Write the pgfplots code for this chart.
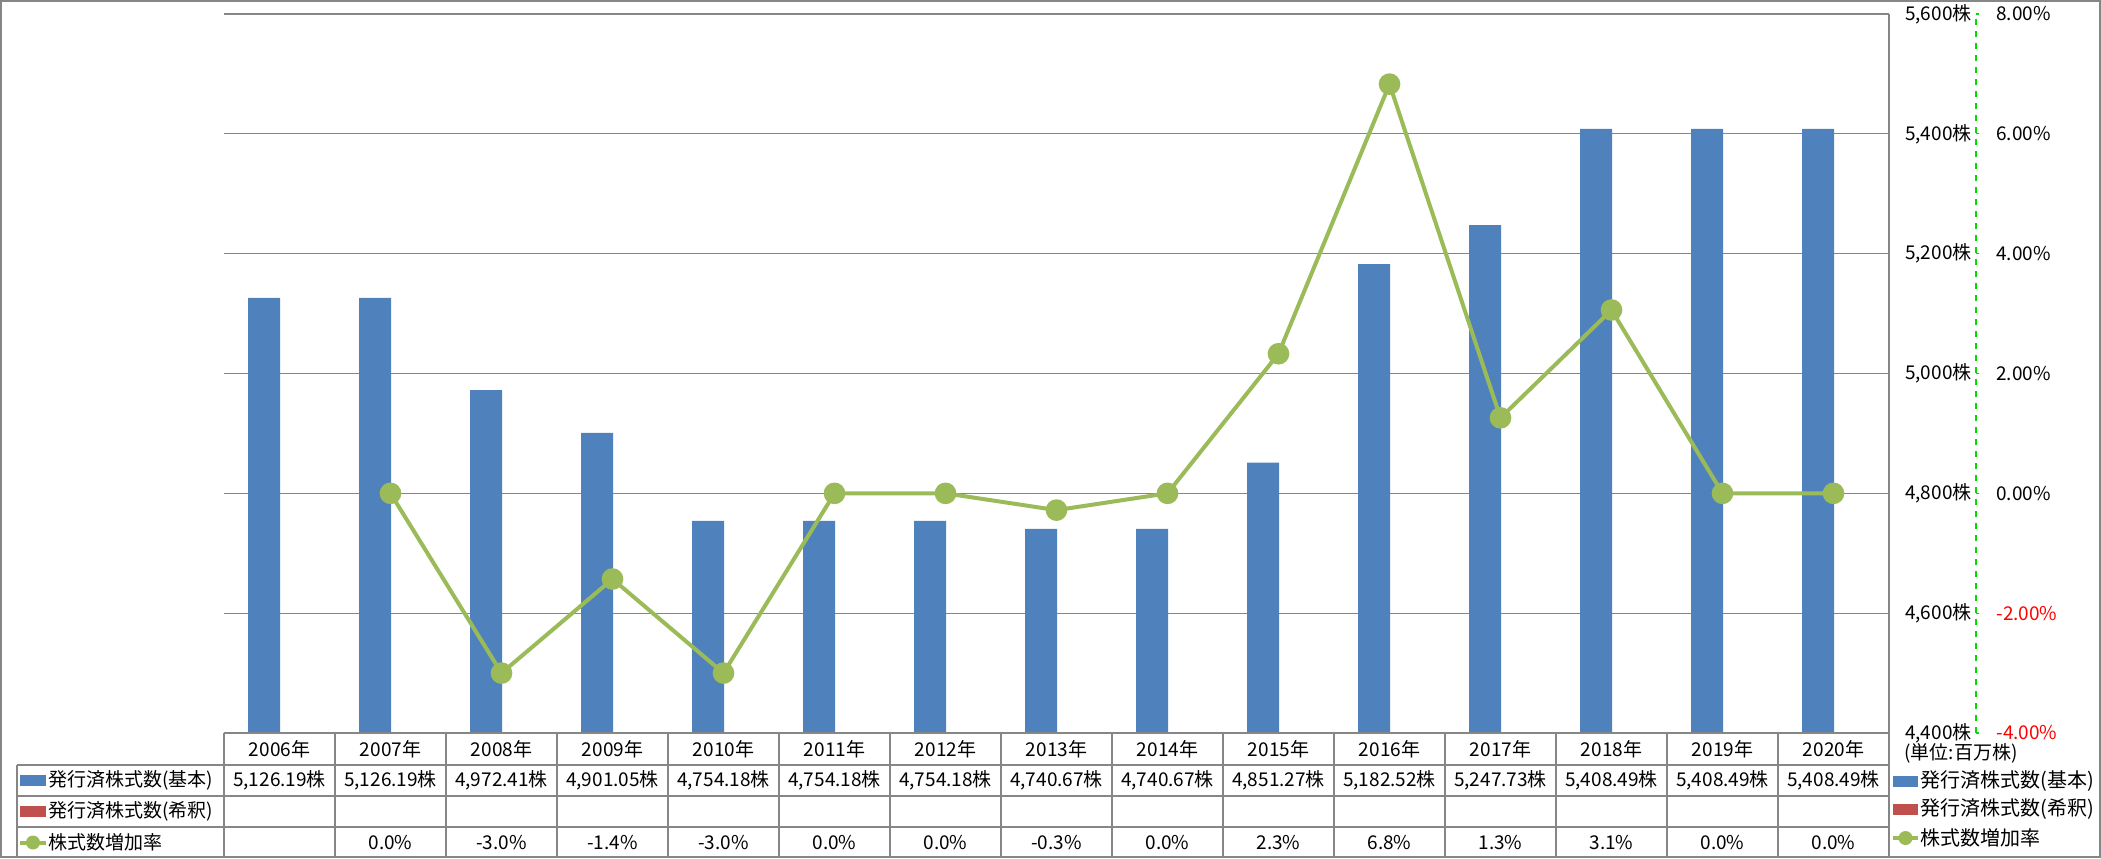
\documentclass[border=0pt]{standalone}
\usepackage{pgfplots}
\pgfplotsset{compat=1.18}
\usepackage{fontspec}
\setmainfont{Noto Sans CJK JP}
\definecolor{barblue}{HTML}{4F81BD}
\definecolor{barred}{HTML}{C0504D}
\definecolor{linegreen}{HTML}{9BBB59}
\definecolor{gridgray}{HTML}{868686}
\definecolor{axisgreen}{HTML}{00DD00}

% values
\def\shares{5126.19,5126.19,4972.41,4901.05,4754.18,4754.18,4754.18,4740.67,4740.67,4851.27,5182.52,5247.73,5408.49,5408.49,5408.49}
\def\rates{0.00,-3.00,-1.43,-3.00,0.00,0.00,-0.28,0.00,2.33,6.83,1.26,3.06,0.00,0.00}

\begin{document}
\fontsize{9.5}{11}\selectfont
\begin{tikzpicture}

% bars (left value axis, labels shown on the right)
\begin{axis}[
    at={(112pt,-366.5pt)}, anchor=south west,
    scale only axis, width=832.5pt, height=359.5pt,
    xmin=-0.5, xmax=14.5,
    ymin=4400, ymax=5600,
    ytick={4400,4600,...,5600},
    axis x line=none, axis y line*=right,
    y axis line style={draw=gridgray, line width=0.6pt, -},
    ymajorgrids, grid style={gridgray, line width=0.6pt},
    major tick length=0pt,
    yticklabel style={anchor=east, inner sep=0pt, xshift=41.5pt},
    yticklabel={\pgfmathprintnumber{\tick}株},
    /pgf/number format/1000 sep={,},
    /pgf/number format/assume math mode=true,
]
\addplot[ybar, bar width=16pt, bar shift=-7.75pt, fill=barblue, draw=none]
    coordinates {(0,5126.19) (1,5126.19) (2,4972.41) (3,4901.05) (4,4754.18)
                 (5,4754.18) (6,4754.18) (7,4740.67) (8,4740.67) (9,4851.27)
                 (10,5182.52) (11,5247.73) (12,5408.49) (13,5408.49) (14,5408.49)};
\end{axis}

% growth rate (secondary axis)
\begin{axis}[
    at={(112pt,-366.5pt)}, anchor=south west,
    scale only axis, width=832.5pt, height=359.5pt,
    xmin=-0.5, xmax=14.5,
    ymin=-4, ymax=8,
    ytick={-4,-2,...,8},
    axis x line=none, axis y line*=right,
    y axis line style={draw=axisgreen, dashed, line width=0.6pt, xshift=43.5pt, -},
    tick style={axisgreen, line width=0.6pt, xshift=43.5pt},
    tick align=outside, major tick length=1.5pt,
    yticklabel style={anchor=west, inner sep=0pt, xshift=52pt},
    yticklabel={\ifdim\tick pt<0pt\color{red}\fi\pgfmathprintnumber[fixed,fixed zerofill,precision=2]{\tick}\%},
    /pgf/number format/assume math mode=true,
]
\addplot[linegreen, line width=2pt, mark=*, mark size=4.4pt,
    mark options={fill=linegreen, draw=linegreen}]
    coordinates {(1,0.00) (2,-3.00) (3,-1.43) (4,-3.00) (5,0.00) (6,0.00)
                 (7,-0.28) (8,0.00) (9,2.33) (10,6.83) (11,1.26) (12,3.06)
                 (13,0.00) (14,0.00)};
\end{axis}

% data table and legend, in pixel units
\begin{scope}[x=0.5pt, y=-0.5pt]
  \useasboundingbox (0,0) rectangle (2101,858);
  \draw[gridgray, line width=0.8pt] (1,1) rectangle (2100,857);
  \begin{scope}[gridgray, line width=0.6pt]
    \draw (224,733) -- (1889,733);
    \draw (17,765) -- (1889,765);
    \draw (17,796) -- (1889,796);
    \draw (17,827) -- (1889,827);
    \draw (17,765) -- (17,857);
    \foreach \k in {0,...,15} \draw ({224+111*\k},733) -- ({224+111*\k},857);
  \end{scope}
  % header
  \foreach \k in {0,...,14} {
    \pgfmathtruncatemacro\yr{2006+\k}
    \node at ({279.5+111*\k},749) {\yr 年};
  }
  % row keys and names
  \fill[barblue] (20,775) rectangle (46,786);
  \node[anchor=west, inner sep=0pt] at (48,780.5) {発行済株式数(基本)};
  \fill[barred] (20,806) rectangle (46,817);
  \node[anchor=west, inner sep=0pt] at (48,811.5) {発行済株式数(希釈)};
  \draw[linegreen, line width=2pt] (20,842.5) -- (46,842.5);
  \fill[linegreen] (33,842.5) circle (7);
  \node[anchor=west, inner sep=0pt] at (48,842.5) {株式数増加率};
  % shares row
  \foreach \v [count=\i from 0] in \shares
    \node at ({279.5+111*\i},780.5) {\pgfmathprintnumber[fixed,fixed zerofill,precision=2,1000 sep={,},assume math mode=true]{\v}株};
  % rate row
  \foreach \v [count=\i from 1] in \rates
    \node at ({279.5+111*\i},842.5) {\pgfmathprintnumber[fixed,fixed zerofill,precision=1,assume math mode=true]{\v}\%};
  % unit and legend on the right
  \node[anchor=west, inner sep=0pt] at (1904,753) {(単位:百万株)};
  \fill[barblue] (1893,776) rectangle (1918,787);
  \node[anchor=west, inner sep=0pt, font=\fontsize{10}{12}\selectfont] at (1920,781.5) {発行済株式数(基本)};
  \fill[barred] (1893,804) rectangle (1918,815);
  \node[anchor=west, inner sep=0pt, font=\fontsize{10}{12}\selectfont] at (1920,809.5) {発行済株式数(希釈)};
  \draw[linegreen, line width=2pt] (1893,838) -- (1918,838);
  \fill[linegreen] (1905.5,838) circle (7);
  \node[anchor=west, inner sep=0pt, font=\fontsize{10}{12}\selectfont] at (1920,838) {株式数増加率};
\end{scope}
\end{tikzpicture}
\end{document}
